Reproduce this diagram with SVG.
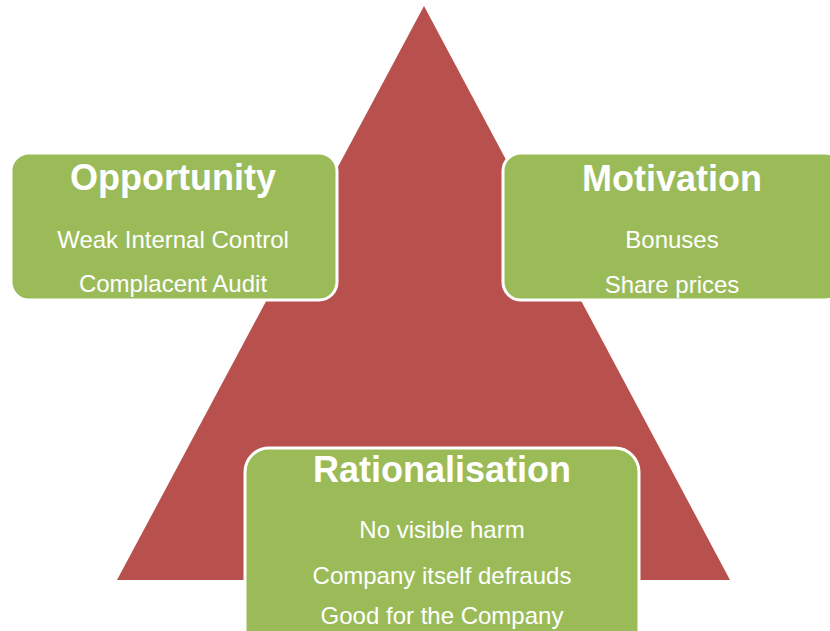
<svg xmlns="http://www.w3.org/2000/svg" width="830" height="631" viewBox="0 0 830 631">
<style>
.box{fill:#9BBB59;stroke:#FFFFFF;stroke-width:3}
.t{font-family:"Liberation Sans",Arial,sans-serif;fill:#FFFFFF;text-anchor:middle}
.h{font-size:36px;font-weight:bold}
.s{font-size:24px}
</style>
<rect width="830" height="631" fill="#FFFFFF"/>
<g id="triangle">
<polygon points="424,6 730,580 117,580" fill="#B8504D"/>
</g>
<g id="opportunity">
<rect class="box" x="11" y="153" width="326" height="147" rx="18"/>
<text class="t h" x="173" y="190">Opportunity</text>
<text class="t s" x="173" y="248">Weak Internal Control</text>
<text class="t s" x="173" y="292">Complacent Audit</text>
</g>
<g id="motivation">
<rect class="box" x="503" y="153" width="340" height="147" rx="18"/>
<text class="t h" x="672" y="191">Motivation</text>
<text class="t s" x="672" y="248">Bonuses</text>
<text class="t s" x="672" y="293">Share prices</text>
</g>
<g id="rationalisation">
<rect class="box" x="245" y="448" width="394" height="220" rx="24"/>
<text class="t h" x="442" y="482">Rationalisation</text>
<text class="t s" x="442" y="538">No visible harm</text>
<text class="t s" x="442" y="584">Company itself defrauds</text>
<text class="t s" x="442" y="624">Good for the Company</text>
</g>
<g id="connectors"/>
</svg>
